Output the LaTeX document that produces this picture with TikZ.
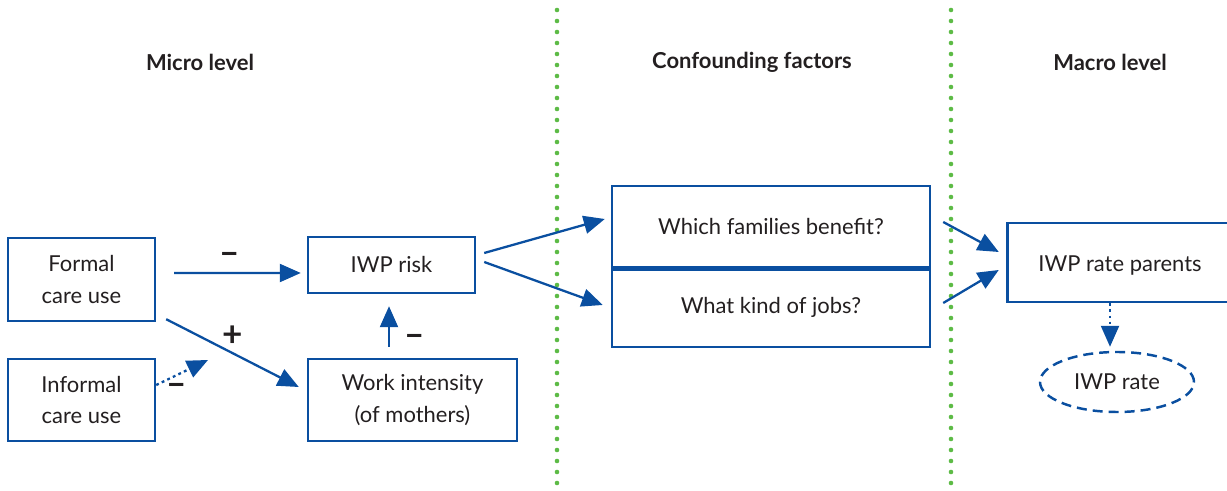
\documentclass[tikz,border=0pt]{standalone}
\usepackage{fontspec}
\setmainfont{Lato}
\usetikzlibrary{shapes.geometric,arrows.meta}
\definecolor{ourblue}{HTML}{0A4FA0}
\definecolor{dotgreen}{HTML}{5DBB46}
\definecolor{textgray}{HTML}{231F20}

\begin{document}
\begin{tikzpicture}[font=\fontsize{12.5}{18}\selectfont, text=textgray,
    box/.style={rectangle, draw=ourblue, line width=1.4pt, align=center, inner sep=0pt},
    arr/.style={draw=ourblue, line width=1.3pt, -{Triangle[length=0.42cm,width=0.36cm]}},
    dots/.style={dash pattern=on 1.6pt off 1.9pt},
    sign/.style={font=\fontsize{20}{20}\selectfont\bfseries, text=textgray},
    divider/.style={draw=dotgreen, line width=2.6pt, line cap=round, dash pattern=on 0pt off 0.22cm}]
    \useasboundingbox (0, 0) rectangle (24.54, 9.82);

    %level headings
    \node at (4.0, 8.58) [font=\fontsize{12.5}{16}\selectfont\bfseries] (micro) {Micro level};
    \node at (15.04, 8.58) [font=\fontsize{12.5}{16}\selectfont\bfseries] (confound) {Confounding factors};
    \node at (22.2, 8.58) [font=\fontsize{12.5}{16}\selectfont\bfseries] (macro) {Macro level};

    %green separators
    \draw [divider] (11.14, 9.62) -- (11.14, 0);
    \draw [divider] (19.02, 9.62) -- (19.02, 0);

    %micro level boxes
    \node at (1.63, 4.23) [box, minimum width=2.94cm, minimum height=1.66cm] (formal) {Formal\\care use};
    \node at (1.63, 1.82) [box, minimum width=2.94cm, minimum height=1.64cm] (informal) {Informal\\care use};
    \node at (7.83, 4.52) [box, minimum width=3.34cm, minimum height=1.12cm] (risk) {IWP risk};
    \node at (8.25, 1.82) [box, minimum width=4.18cm, minimum height=1.64cm] (work) {Work intensity\\(of mothers)};

    %confounding factors
    \node at (15.42, 5.29) [box, minimum width=6.36cm, minimum height=1.62cm] (families) {Which families benefit?};
    \node at (15.42, 3.68) [box, minimum width=6.36cm, minimum height=1.60cm] (jobs) {What kind of jobs?};
    \draw [draw=ourblue, line width=3pt] (families.south west) -- (families.south east);

    %macro level
    \node at (22.40, 4.57) [box, minimum width=4.5cm, minimum height=1.58cm, text height=0.42cm, text depth=0.04cm] (parents) {IWP rate parents};
    \node at (22.34, 2.18) [ellipse, draw=ourblue, line width=1.4pt, dash pattern=on 0.2cm off 0.12cm, minimum width=3.08cm, minimum height=1.2cm, inner sep=0pt] (rate) {IWP rate};

    \coordinate (moderate) at (4.16, 2.62);

    %Relations micro level
    \draw [arr] ([xshift=0.36cm, yshift=0.13cm]formal.east) -- ([xshift=-0.12cm, yshift=-0.16cm]risk.west) node[midway, above, sign, xshift=-0.15cm, yshift=1pt] {--};
    \draw [arr] ([xshift=0.2cm, yshift=0.06cm]formal.south east) -- ([xshift=-0.16cm, yshift=0.26cm]work.west) node[midway, above, sign] {+};
    \draw [arr, dots] ([yshift=0.30cm]informal.east) -- (moderate) node[pos=0.4, below, sign, yshift=-1pt] {--};
    \draw [arr] ([xshift=-0.47cm, yshift=0.22cm]work.north) -- ([xshift=-0.05cm, yshift=-0.24cm]risk.south) node[midway, right, sign, xshift=5pt, yshift=-8pt] {--};

    %Relations to confounders and macro level
    \draw [arr] ([xshift=0.16cm, yshift=0.24cm]risk.east) -- ([xshift=-0.12cm, yshift=0.15cm]families.west);
    \draw [arr] ([xshift=0.16cm, yshift=0.06cm]risk.east) -- ([xshift=-0.16cm, yshift=0.04cm]jobs.west);
    \draw [arr] ([xshift=0.24cm, yshift=0.09cm]families.east) -- ([xshift=-0.15cm, yshift=0.21cm]parents.west);
    \draw [arr] ([xshift=0.24cm, yshift=0.08cm]jobs.east) -- ([xshift=-0.15cm, yshift=-0.15cm]parents.west);
    \draw [arr, dots] ([xshift=-0.2cm]parents.south) -- ([xshift=-0.14cm, yshift=0.08cm]rate.north);

\end{tikzpicture}
\end{document}
